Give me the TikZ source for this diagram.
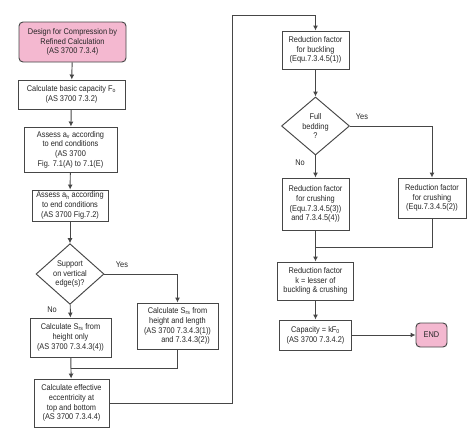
\documentclass[tikz,border=0pt]{standalone}
\usepackage{fontspec}
\setmainfont[FakeStretch=0.89]{Liberation Sans}
\usetikzlibrary{shapes.geometric,arrows.meta}
\definecolor{pinkfill}{RGB}{244,184,208}
\definecolor{linec}{RGB}{70,70,70}
\begin{document}
\begin{tikzpicture}[x=1pt,y=-1pt,
  every node/.style={font=\fontsize{8.3}{9.7}\selectfont, text=black!85},
  box/.style={draw=linec, line width=0.95pt, fill=white, align=center, inner sep=1pt},
  startbox/.style={box, fill=pinkfill, rounded corners=4pt},
  decision/.style={draw=linec, line width=0.95pt, diamond, inner sep=0pt, align=center},
  conn/.style={draw=linec, line width=0.95pt},
  arr/.style={conn, -{Latex[length=5pt,width=5pt]}},
  lbl/.style={inner sep=0pt}]
\useasboundingbox (0,0) rectangle (474,445);
% left column
\node[startbox, minimum width=107pt, minimum height=40pt] (start) at (72.5,42) {Design for Compression by\\Refined Calculation\\(AS 3700 7.3.4)};
\node[box, minimum width=107pt, minimum height=29pt] (calc) at (71.5,94.5) {Calculate basic capacity F\textsubscript{o}\\(AS 3700 7.3.2)};
\node[box, minimum width=93pt, minimum height=45pt] (av) at (70.5,149.5) {Assess a\textsubscript{v} according\\to end conditions\\(AS 3700\\Fig. 7.1(A) to 7.1(E)};
\node[box, minimum width=76pt, minimum height=31pt] (ah) at (70,205.5) {Assess a\textsubscript{h} according\\to end conditions\\(AS 3700 Fig.7.2)};
\node[decision, minimum width=68pt, minimum height=57pt] (sup) at (70,274) {Support\\on vertical\\edge(s)?};
\node[box, minimum width=81pt, minimum height=39pt] (hl) at (70.5,337.5) {Calculate S\textsubscript{rs} from\\height only\\(AS 3700 7.3.4.3(4))};
\node[box, minimum width=81pt, minimum height=46pt] (hlen) at (177.5,326) {Calculate S\textsubscript{rs} from\\height and length\\(AS 3700 7.3.4.3(1))\\\hspace*{16pt}and 7.3.4.3(2))};
\node[box, minimum width=75pt, minimum height=48pt] (ecc) at (71.5,403) {Calculate effective\\eccentricity at\\top and bottom\\(AS 3700 7.3.4.4)};
% right column
\node[box, minimum width=67pt, minimum height=38pt] (buck) at (315.5,50) {Reduction factor\\for buckling\\(Equ.7.3.4.5(1))};
\node[decision, minimum width=68pt, minimum height=58pt] (full) at (315.5,126) {Full\\bedding\\?};
\node[box, minimum width=67pt, minimum height=52pt] (cr1) at (315.5,204) {Reduction factor\\for crushing\\(Equ.7.3.4.5(3))\\and 7.3.4.5(4))};
\node[box, minimum width=68pt, minimum height=40pt] (cr2) at (432,198) {Reduction factor\\for crushing\\(Equ.7.3.4.5(2))};
\node[box, minimum width=76pt, minimum height=38pt] (kbox) at (315.5,281) {Reduction factor\\k = lesser of\\buckling \& crushing};
\node[box, minimum width=72pt, minimum height=30pt] (cap) at (315.5,335) {Capacity = kF\textsubscript{0}\\(AS 3700 7.3.4.2)};
\node[startbox, minimum width=31pt, minimum height=24pt] (end) at (431.5,335) {END};
% labels
\node[lbl] (yes1) at (122,265) {Yes};
\node[lbl] (no1) at (52,310) {No};
\node[lbl] (yes2) at (362,117) {Yes};
\node[lbl] (no2) at (300,163) {No};
% coordinates
\coordinate (m1) at (70.5,368);
\coordinate (r1) at (232,403);
\coordinate (r2) at (232,15);
\coordinate (r3) at (315.5,15);
\coordinate (m2) at (315.5,247);
% connectors
\draw[arr] (start) -- (calc);
\draw[arr] (calc) -- (av);
\draw[arr] (av) -- (ah);
\draw[arr] (ah) -- (sup);
\draw[arr] (sup) -- (hl);
\draw[arr] (sup.east) -| (hlen.north);
\draw[arr] (hl) -- (ecc);
\draw[conn] (hlen.south) |- (m1);
\draw[conn] (ecc.east) -- (r1) -- (r2) -- (r3);
\draw[arr] (r3) -- (buck.north);
\draw[arr] (buck) -- (full);
\draw[arr] (full) -- (cr1);
\draw[arr] (full.east) -| (cr2.north);
\draw[arr] (cr1) -- (kbox);
\draw[conn] (cr2.south) |- (m2);
\draw[arr] (kbox) -- (cap);
\draw[arr] (cap) -- (end);
\end{tikzpicture}
\end{document}
